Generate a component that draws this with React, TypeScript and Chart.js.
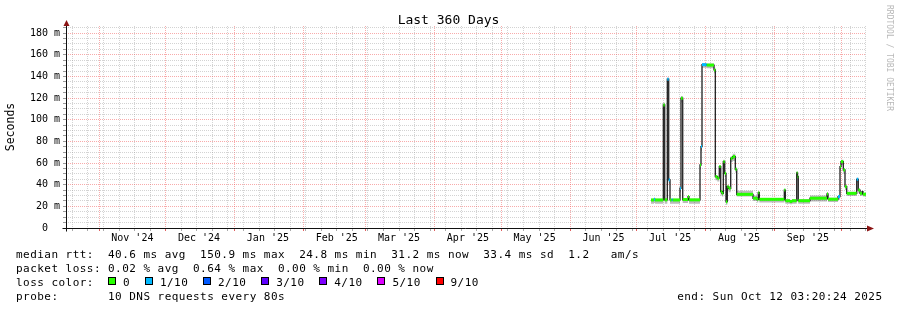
import { useEffect, useRef } from 'react';
import { Chart, registerables } from 'chart.js';

Chart.register(...registerables);

const FONT = "'DejaVu Sans Mono', 'Liberation Mono', monospace";

// ---------- text ----------
const chartTitle = 'Last 360 Days';
const yAxisTitle = 'Seconds';
const creditText = 'RRDTOOL / TOBI OETIKER';
const endText = 'end: Sun Oct 12 03:20:24 2025';
const legendRows = [
  'median rtt:  40.6 ms avg  150.9 ms max  24.8 ms min  31.2 ms now  33.4 ms sd  1.2   am/s',
  'packet loss: 0.02 % avg  0.64 % max  0.00 % min  0.00 % now',
  'loss color:',
  'probe:       10 DNS requests every 80s',
];
const lossLegendLabels = ['0', '1/10', '2/10', '3/10', '4/10', '5/10', '9/10'];
const lossLegendLevels = [0, 1, 2, 3, 4, 5, 9];
const lossLegendColors = ['#26ff00', '#00b8ff', '#0059ff', '#5e00ff', '#7e00ff', '#dd00ff', '#ff0000'];

// ---------- time window ----------
const windowEndUtc = Date.UTC(2025, 9, 12, 3, 20, 24);
const windowDays = 360;
const seriesEpochUtc = Date.UTC(2025, 6, 1); // step starts are days since 2025-07-01
const firstWeekGrid = '2024-10-20';
const monthStarts = [
  '2024-11-01', '2024-12-01', '2025-01-01', '2025-02-01', '2025-03-01', '2025-04-01',
  '2025-05-01', '2025-06-01', '2025-07-01', '2025-08-01', '2025-09-01', '2025-10-01',
];
const monthLabels = [
  "Nov '24", "Dec '24", "Jan '25", "Feb '25", "Mar '25", "Apr '25",
  "May '25", "Jun '25", "Jul '25", "Aug '25", "Sep '25",
];
const monthLabelDay = 16;

// ---------- y axis ----------
const yMax = 186.6;
const yMinorTicks = [0, 5, 10, 15, 20, 25, 30, 35, 40, 45, 50, 55, 60, 65, 70, 75, 80, 85, 90, 95,
  100, 105, 110, 115, 120, 125, 130, 135, 140, 145, 150, 155, 160, 165, 170, 175, 180, 185];
const yMajorTicks = [0, 20, 40, 60, 80, 100, 120, 140, 160, 180];
const yMajorLabels = ['0  ', '20 m', '40 m', '60 m', '80 m', '100 m', '120 m', '140 m', '160 m', '180 m'];

// ---------- series (ms) ----------
const stepStartDays = [
  6.39, 7.74, 8.19, 11.93, 12.56, 13.73, 14.36, 14.94, 15.71, 16.16,
  19.44, 19.89, 20.66, 23.04, 23.49, 28.44, 28.89, 29.34, 31.46, 34.74,
  35.33, 36.23, 37.13, 37.76, 38.34, 38.93, 39.56, 40.14, 40.73, 41.36,
  42.26, 43.16, 44.33, 44.96, 52.29, 54.09, 54.66, 55.13, 66.38, 66.83,
  68.94, 69.84, 71.96, 72.32, 72.66, 77.94, 85.59, 86.04, 90.54, 91.44,
  91.89, 92.93, 93.69, 94.46, 98.96, 99.66, 100.46, 101.36, 101.76,
];
const medianMs = [
  25.9, 26.5, 25.9, 113.7, 26.0, 137.5, 44.4, 25.9, 26.0, 25.9,
  36.7, 119.9, 26.3, 29.0, 26.0, 58.2, 75.2, 150.9, 150.5, 146.0,
  47.4, 46.0, 56.7, 33.6, 32.0, 61.3, 50.5, 24.3, 38.2, 36.7,
  64.4, 66.0, 54.2, 31.1, 27.5, 26.5, 32.6, 26.5, 35.0, 25.2,
  24.5, 25.2, 51.0, 47.4, 25.2, 27.5, 31.4, 26.6, 29.0, 56.7,
  61.3, 53.6, 38.2, 32.0, 45.0, 35.0, 32.0, 33.6, 31.2,
];
const lossTenths = [
  0, 1, 0, 0, 0, 1, 1, 0, 1, 0,
  1, 0, 0, 0, 0, 0, 1, 1, 0, 0,
  0, 0, 0, 0, 0, 0, 0, 0, 0, 0,
  0, 0, 0, 0, 0, 0, 0, 0, 0, 0,
  0, 0, 0, 0, 0, 0, 0, 0, 1, 0,
  0, 0, 0, 0, 1, 0, 0, 0, 0,
];
const smokeLowMs = [
  22.5, 23.0, 22.5, 110.0, 22.5, 134.0, 41.0, 22.5, 22.5, 22.5,
  33.0, 116.0, 23.0, 25.0, 22.5, 54.0, 71.0, 148.0, 147.5, 143.0,
  44.0, 43.0, 53.0, 30.0, 29.0, 57.0, 47.0, 21.5, 35.0, 33.0,
  61.0, 62.0, 51.0, 29.0, 25.0, 23.5, 29.0, 23.5, 31.0, 22.5,
  22.0, 22.5, 47.0, 44.0, 22.5, 24.5, 28.0, 24.0, 26.0, 53.0,
  58.0, 50.0, 35.0, 29.5, 42.0, 32.0, 29.5, 31.0, 29.0,
];
const smokeHighMs = [
  27.0, 27.5, 27.0, 116.0, 27.0, 139.0, 46.0, 27.0, 27.0, 27.0,
  38.0, 122.0, 27.5, 30.0, 27.0, 60.0, 77.0, 152.0, 152.0, 148.0,
  49.0, 47.5, 58.0, 35.0, 34.0, 63.0, 52.0, 26.0, 40.0, 38.0,
  66.0, 68.5, 56.0, 34.5, 30.0, 27.5, 34.0, 27.5, 36.0, 26.5,
  26.0, 26.5, 52.0, 49.0, 26.5, 30.0, 33.0, 28.0, 30.5, 58.0,
  63.0, 55.0, 40.0, 33.5, 46.5, 36.5, 33.5, 35.0, 32.5,
];

// ---------- derived helpers ----------
const DAY_MS = 86400000;
const windowStartUtc = windowEndUtc - windowDays * DAY_MS;
const toAxis = (ms: number) => (ms - windowStartUtc) / DAY_MS;
const parseUtc = (s: string) => {
  const [y, m, d] = s.split('-').map(Number);
  return Date.UTC(y, m - 1, d);
};
const stepAxis = (d: number) => toAxis(seriesEpochUtc + d * DAY_MS);

type XTick = { grid: 'major' | 'minor' | 'none'; label: string };
const xTickInfo = new Map<number, XTick>();
for (let t = parseUtc(firstWeekGrid); t < windowEndUtc; t += 7 * DAY_MS) {
  xTickInfo.set(toAxis(t), { grid: 'minor', label: '' });
}
monthStarts.forEach((s) => {
  xTickInfo.set(toAxis(parseUtc(s)), { grid: 'major', label: '' });
});
monthLabels.forEach((lab, i) => {
  const v = toAxis(parseUtc(monthStarts[i]) + (monthLabelDay - 1) * DAY_MS);
  const ex = xTickInfo.get(v);
  xTickInfo.set(v, { grid: ex ? ex.grid : 'none', label: lab });
});
const xTickValues = Array.from(xTickInfo.keys()).sort((a, b) => a - b);

const MINOR_GRID = 'rgba(150,150,150,0.42)';
const MAJOR_GRID = 'rgba(240,80,80,0.48)';

const lossColor = (tenths: number) => {
  let idx = 0;
  lossLegendLevels.forEach((lv, i) => {
    if (tenths >= lv) idx = i;
  });
  return lossLegendColors[idx];
};

const ADV = 7.08;
function drawMono(ctx: CanvasRenderingContext2D, text: string, x: number, y: number, adv: number) {
  for (let i = 0; i < text.length; i++) {
    const ch = text[i];
    if (ch !== ' ') ctx.fillText(ch, x + i * adv, y);
  }
}

const decorPlugin = {
  id: 'smokeDecor',
  afterDraw(chart: any) {
    const { ctx, chartArea: a } = chart;
    const W = chart.width;
    ctx.save();
    // axes
    const ax = Math.round(a.left) + 0.5;
    const ay = Math.round(a.bottom) + 0.5;
    ctx.strokeStyle = '#101010';
    ctx.lineWidth = 1;
    ctx.setLineDash([]);
    ctx.beginPath();
    ctx.moveTo(ax, a.top);
    ctx.lineTo(ax, ay + 3);
    ctx.moveTo(ax - 4, ay);
    ctx.lineTo(a.right + 2, ay);
    ctx.stroke();
    // arrows
    ctx.fillStyle = '#8b1414';
    ctx.beginPath();
    ctx.moveTo(ax, a.top - 6);
    ctx.lineTo(ax - 3, a.top);
    ctx.lineTo(ax + 3, a.top);
    ctx.closePath();
    ctx.fill();
    ctx.beginPath();
    ctx.moveTo(a.right + 8, ay);
    ctx.lineTo(a.right + 1, ay - 3);
    ctx.lineTo(a.right + 1, ay + 3);
    ctx.closePath();
    ctx.fill();

    // title
    ctx.fillStyle = '#000';
    ctx.font = `13px ${FONT}`;
    ctx.textAlign = 'center';
    ctx.textBaseline = 'alphabetic';
    ctx.fillText(chartTitle, W / 2, 24);

    // legend rows
    ctx.font = `11px ${FONT}`;
    ctx.textAlign = 'left';
    const x0 = 16;
    const baselines = [257.5, 271.5, 285.5, 299.5];
    legendRows.forEach((row, i) => drawMono(ctx, row, x0, baselines[i], ADV));

    // loss colour boxes
    let lx = x0 + 13 * ADV;
    lossLegendLabels.forEach((lab, i) => {
      ctx.fillStyle = '#000';
      ctx.fillRect(Math.round(lx), 277, 8, 8);
      ctx.fillStyle = lossLegendColors[i];
      ctx.fillRect(Math.round(lx) + 1, 278, 6, 6);
      ctx.fillStyle = '#000';
      const tx = lx + 15;
      drawMono(ctx, lab, tx, baselines[2], ADV);
      lx = tx + lab.length * ADV + 14.8;
    });

    // end time
    drawMono(ctx, endText, W - 14.5 - endText.length * ADV, baselines[3], ADV);

    // credit
    ctx.save();
    ctx.translate(W - 8, 5);
    ctx.rotate(Math.PI / 2);
    ctx.font = `8px ${FONT}`;
    ctx.fillStyle = '#b8b8b8';
    ctx.textAlign = 'left';
    ctx.textBaseline = 'middle';
    ctx.fillText(creditText, 0, 0);
    ctx.restore();

    ctx.restore();
  },
};

export default function App() {
  const ref = useRef<HTMLCanvasElement>(null);

  useEffect(() => {
    const canvas = ref.current;
    if (!canvas) return;
    const n = stepStartDays.length;
    const withEnd = (vals: number[]) => [
      ...stepStartDays.map((d, i) => ({ x: stepAxis(d), y: vals[i] })),
      { x: windowDays, y: vals[n - 1] },
    ];
    const bandPts: { x: number; y: number }[] = [];
    stepStartDays.forEach((d, i) => {
      const xa = stepAxis(d);
      const xb = i + 1 < n ? stepAxis(stepStartDays[i + 1]) : windowDays;
      bandPts.push({ x: xa, y: medianMs[i] }, { x: xb, y: medianMs[i] });
    });

    const chart = new Chart(canvas, {
      type: 'line',
      data: {
        datasets: [
          {
            label: 'loss',
            data: bandPts,
            borderWidth: 3,
            borderCapStyle: 'butt',
            borderColor: lossLegendColors[0],
            pointRadius: 0,
            fill: false,
            segment: {
              borderColor: (c: any) =>
                c.p0DataIndex % 2 === 0 ? lossColor(lossTenths[c.p0DataIndex / 2]) : 'rgba(0,0,0,0)',
            },
          } as any,
          {
            label: 'median rtt',
            data: withEnd(medianMs),
            stepped: true,
            borderColor: '#202020',
            borderWidth: 1.3,
            pointRadius: 0,
            fill: false,
          },
          {
            label: 'smoke low',
            data: withEnd(smokeLowMs),
            stepped: true,
            borderColor: 'rgba(0,0,0,0)',
            borderWidth: 0,
            pointRadius: 0,
            fill: false,
          },
          {
            label: 'smoke high',
            data: withEnd(smokeHighMs),
            stepped: true,
            borderColor: 'rgba(0,0,0,0)',
            borderWidth: 0,
            pointRadius: 0,
            fill: 2,
            backgroundColor: 'rgba(60,60,60,0.35)',
          },
        ],
      },
      options: {
        responsive: false,
        maintainAspectRatio: false,
        animation: false,
        devicePixelRatio: 1,
        events: [],
        layout: { padding: { left: 0, right: 31, top: 26, bottom: 62 } },
        plugins: {
          legend: { display: false },
          title: { display: false },
          tooltip: { enabled: false },
        },
        scales: {
          x: {
            type: 'linear',
            min: 0,
            max: windowDays,
            afterBuildTicks: (s: any) => {
              s.ticks = xTickValues.map((v) => ({ value: v }));
            },
            afterFit: (s: any) => {
              s.height = 20;
            },
            ticks: {
              autoSkip: false,
              maxRotation: 0,
              minRotation: 0,
              padding: 1,
              color: '#000',
              font: { family: FONT, size: 10 },
              callback: (v: any) => xTickInfo.get(Number(v))?.label ?? '',
            },
            grid: {
              color: (c: any) => {
                const info = c.tick ? xTickInfo.get(c.tick.value) : undefined;
                if (!info) return MINOR_GRID;
                return info.grid === 'major' ? MAJOR_GRID : info.grid === 'minor' ? MINOR_GRID : 'rgba(0,0,0,0)';
              },
              tickColor: (c: any) => {
                const info = c.tick ? xTickInfo.get(c.tick.value) : undefined;
                if (!info) return '#999';
                return info.grid === 'major' ? '#e06060' : info.grid === 'minor' ? '#aaa' : 'rgba(0,0,0,0)';
              },
              tickLength: 3,
              lineWidth: 1,
            },
            border: { display: false, dash: [1, 1] },
          },
          y: {
            type: 'linear',
            min: 0,
            max: yMax,
            afterBuildTicks: (s: any) => {
              s.ticks = yMinorTicks.map((v) => ({ value: v }));
            },
            afterFit: (s: any) => {
              s.width = 66;
            },
            ticks: {
              autoSkip: false,
              padding: 3,
              color: '#000',
              font: { family: FONT, size: 10 },
              callback: (v: any) => {
                const i = yMajorTicks.indexOf(Number(v));
                return i >= 0 ? yMajorLabels[i] : '';
              },
            },
            grid: {
              color: (c: any) =>
                c.tick && yMajorTicks.includes(c.tick.value) ? MAJOR_GRID : MINOR_GRID,
              tickColor: '#999',
              tickLength: 3,
              lineWidth: 1,
            },
            border: { display: false, dash: [1, 1] },
            title: {
              display: true,
              text: yAxisTitle,
              color: '#000',
              font: { family: FONT, size: 11.5 },
              padding: { top: 4, bottom: 0 },
            },
          },
        },
      } as any,
      plugins: [decorPlugin],
    });
    return () => chart.destroy();
  }, []);

  return (
    <div style={{ position: 'fixed', left: 0, top: 0, width: 897, height: 310, background: '#fff' }}>
      <canvas ref={ref} width={897} height={310} style={{ display: 'block', width: 897, height: 310 }} />
    </div>
  );
}
